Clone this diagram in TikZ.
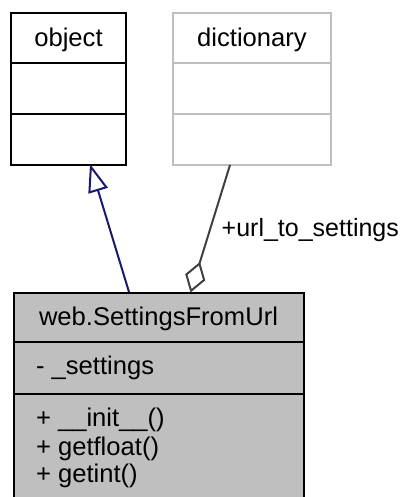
\documentclass[tikz,border=0pt]{standalone}
\usepackage{fontspec}
\setmainfont{Liberation Sans}
\usetikzlibrary{arrows.meta}
\definecolor{navyedge}{HTML}{191970}
\definecolor{grayedge}{HTML}{404040}
\definecolor{lightbd}{HTML}{BFBFBF}
\definecolor{classfill}{HTML}{BFBFBF}
\begin{document}
\begin{tikzpicture}[x=1pt,y=-1pt,
  every node/.style={inner sep=0pt, outer sep=0pt},
  txt/.style={font=\fontsize{25.6}{27.5}\selectfont, anchor=base},
  ltxt/.style={font=\fontsize{25.6}{27.5}\selectfont, anchor=base west},
  lbltxt/.style={font=\fontsize{25}{27.5}\selectfont, anchor=base west},
  classbox/.style={draw, rectangle, line width=2pt, anchor=north west},
  divider/.style={line width=2pt},
  inherit/.style={draw=navyedge, line width=2pt, -{Triangle[length=28pt,width=20pt,fill=white]}},
  aggr/.style={draw=grayedge, line width=2pt, -{Diamond[length=32pt,width=21pt,fill=white]}}]
\useasboundingbox (0,0) rectangle (409,497);
\fill[white] (0,0) rectangle (409,497);
% object
\node[classbox, draw=black, minimum width=115pt, minimum height=152pt] (obj) at (11,13) {};
\draw[divider, black] (11,63.3) -- (126,63.3);
\draw[divider, black] (11,114.3) -- (126,114.3);
\node[txt] (objt) at (68.5,46.7) {object};
% dictionary
\node[classbox, draw=lightbd, minimum width=158pt, minimum height=152pt] (dict) at (173,13) {};
\draw[divider, lightbd] (173,63.3) -- (331,63.3);
\draw[divider, lightbd] (173,114.3) -- (331,114.3);
\node[txt] (dictt) at (252,46.7) {dictionary};
% SettingsFromUrl
\node[classbox, draw=black, fill=classfill, minimum width=290pt, minimum height=210pt] (sfu) at (14,292.7) {};
\draw[divider, black] (14,342.3) -- (304,342.3);
\draw[divider, black] (14,394) -- (304,394);
\node[txt] (sfut) at (158.5,325) {web.SettingsFromUrl};
\node[ltxt] (attr) at (36,374.3) {- \_settings};
\node[ltxt] (m1) at (36,426.7) {+ \_\_init\_\_()};
\node[ltxt] (m2) at (36,455) {+ getfloat()};
\node[ltxt] (m3) at (36,482.7) {+ getint()};
% connectors
\coordinate (inhS) at (129,292);
\coordinate (inhE) at (90,164);
\draw[inherit] (inhS) -- (inhE);
\coordinate (agS) at (230,165);
\coordinate (agE) at (190.5,292.5);
\draw[aggr] (agS) -- (agE);
\node[lbltxt] (lbl) at (221.7,236) {+url\_to\_settings};
\end{tikzpicture}
\end{document}
